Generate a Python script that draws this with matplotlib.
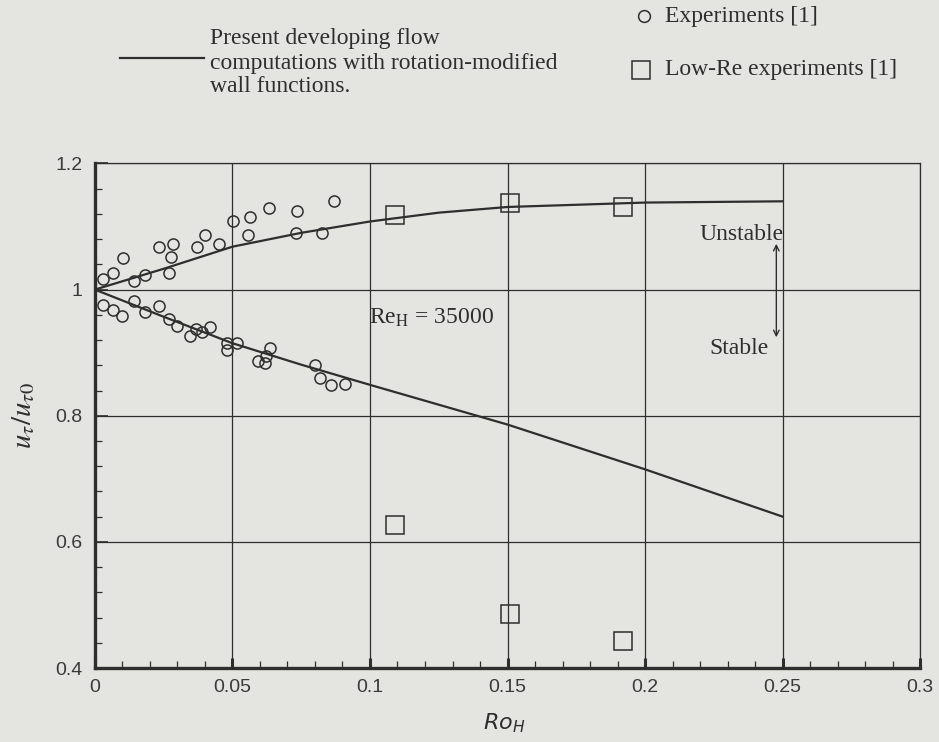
import matplotlib
matplotlib.use('Agg')
import matplotlib.pyplot as plt
from matplotlib.lines import Line2D
from matplotlib.ticker import MultipleLocator, AutoMinorLocator, FormatStrFormatter

# Experiments [1] - unstable side (above 1)
exp_up_x = [0.003, 0.0066, 0.0102, 0.0144, 0.0183, 0.0235, 0.0285, 0.0278, 0.0268, 0.0372,
            0.040, 0.0451, 0.0502, 0.0564, 0.0556, 0.0632, 0.0736, 0.073, 0.0824, 0.0868]
exp_up_y = [1.017, 1.027, 1.050, 1.014, 1.023, 1.067, 1.073, 1.052, 1.027, 1.067,
            1.086, 1.073, 1.108, 1.115, 1.087, 1.130, 1.125, 1.090, 1.090, 1.140]

# Experiments [1] - stable side (below 1)
exp_lo_x = [0.003, 0.0066, 0.0100, 0.0144, 0.0183, 0.0234, 0.0268, 0.0300, 0.0345, 0.0369,
            0.0390, 0.0418, 0.0482, 0.0482, 0.0516, 0.0592, 0.0618, 0.0623, 0.0637, 0.0799,
            0.0817, 0.0858, 0.0908]
exp_lo_y = [0.976, 0.967, 0.958, 0.982, 0.965, 0.974, 0.954, 0.943, 0.927, 0.937,
            0.933, 0.940, 0.916, 0.904, 0.916, 0.887, 0.883, 0.895, 0.907, 0.880,
            0.860, 0.849, 0.850]

# Low-Re experiments [1]
lowre_x = [0.109, 0.151, 0.192, 0.109, 0.151, 0.192]
lowre_y = [1.118, 1.138, 1.131, 0.626, 0.486, 0.443]

# computations (unstable / stable)
calc_up_x = [0, 0.025, 0.05, 0.075, 0.1, 0.125, 0.15, 0.2, 0.25]
calc_up_y = [1.0, 1.033, 1.068, 1.090, 1.108, 1.122, 1.131, 1.138, 1.140]
calc_lo_x = [0, 0.025, 0.05, 0.075, 0.1, 0.15, 0.2, 0.25]
calc_lo_y = [1.0, 0.957, 0.915, 0.881, 0.849, 0.786, 0.715, 0.640]

ink = '#2e2e2e'
paper = '#e4e4e1'

fig = plt.figure(figsize=(9.39, 7.42), dpi=100, facecolor=paper)
ax = fig.add_axes([0.101, 0.0997, 0.879, 0.680], facecolor=paper)

ax.plot(calc_up_x, calc_up_y, color=ink, lw=1.6)
ax.plot(calc_lo_x, calc_lo_y, color=ink, lw=1.6)
ax.plot(exp_up_x, exp_up_y, 'o', mfc='none', mec=ink, ms=8, mew=1.1)
ax.plot(exp_lo_x, exp_lo_y, 'o', mfc='none', mec=ink, ms=8, mew=1.1)
ax.plot(lowre_x, lowre_y, 's', mfc='none', mec=ink, ms=12.5, mew=1.1)

ax.set_xlim(0, 0.3)
ax.set_ylim(0.4, 1.2)
ax.xaxis.set_major_locator(MultipleLocator(0.05))
ax.yaxis.set_major_locator(MultipleLocator(0.2))
ax.xaxis.set_minor_locator(AutoMinorLocator(5))
ax.yaxis.set_minor_locator(AutoMinorLocator(5))
ax.xaxis.set_major_formatter(FormatStrFormatter('%g'))
ax.yaxis.set_major_formatter(FormatStrFormatter('%g'))
ax.grid(True, which='major', color=ink, lw=0.9)

ax.tick_params(which='both', direction='in', colors=ink, labelcolor='#3a3a3a')
ax.tick_params(axis='x', which='major', length=7, width=2.2, pad=8)
ax.tick_params(axis='y', which='major', length=9, width=1.2, pad=9)
ax.tick_params(which='minor', length=5, width=0.9)
for lab in ax.get_xticklabels() + ax.get_yticklabels():
    lab.set_family('Liberation Sans')
    lab.set_fontsize(14)

for s in ['left', 'bottom']:
    ax.spines[s].set_linewidth(2.4)
    ax.spines[s].set_color(ink)
for s in ['top', 'right']:
    ax.spines[s].set_linewidth(0.9)
    ax.spines[s].set_color(ink)

ax.set_ylabel(r'$u_\tau/u_{\tau0}$', fontsize=21, color=ink, math_fontfamily='stix')
ax.yaxis.set_label_coords(-0.07, 0.5)
ax.set_xlabel(r'$Ro_H$', fontsize=16, color=ink, math_fontfamily='dejavusans')
ax.xaxis.set_label_coords(0.496, -0.085)

serif = 'Liberation Serif'
ax.text(0.0996, 0.955, r'Re$_\mathrm{H}$ = 35000', fontsize=17, family=serif,
        color=ink, va='center', math_fontfamily='stix')
ax.text(0.235, 1.088, 'Unstable', fontsize=17, family=serif, color=ink,
        ha='center', va='center')
ax.text(0.234, 0.906, 'Stable', fontsize=17, family=serif, color=ink,
        ha='center', va='center')
ax.annotate('', xy=(0.2477, 0.92), xytext=(0.2477, 1.077),
            arrowprops=dict(arrowstyle='<->', lw=1.0, color=ink))

# legend drawn in figure coordinates
fig.add_artist(Line2D([0.128, 0.217], [0.922, 0.922], color=ink, lw=1.6))
fig.text(0.224, 0.948, 'Present developing flow', fontsize=17, family=serif,
         color=ink, va='center')
fig.text(0.224, 0.915, 'computations with rotation-modified', fontsize=17,
         family=serif, color=ink, va='center')
fig.text(0.224, 0.883, 'wall functions.', fontsize=17, family=serif,
         color=ink, va='center')
fig.add_artist(Line2D([0.686], [0.978], marker='o', mfc='none', mec=ink,
                      ms=8.5, mew=1.1))
fig.text(0.708, 0.978, 'Experiments [1]', fontsize=17, family=serif,
         color=ink, va='center')
fig.add_artist(Line2D([0.683], [0.906], marker='s', mfc='none', mec=ink,
                      ms=12.5, mew=1.1))
fig.text(0.708, 0.906, 'Low-Re experiments [1]', fontsize=17, family=serif,
         color=ink, va='center')

fig.savefig('out.png', dpi=100, facecolor=paper)
